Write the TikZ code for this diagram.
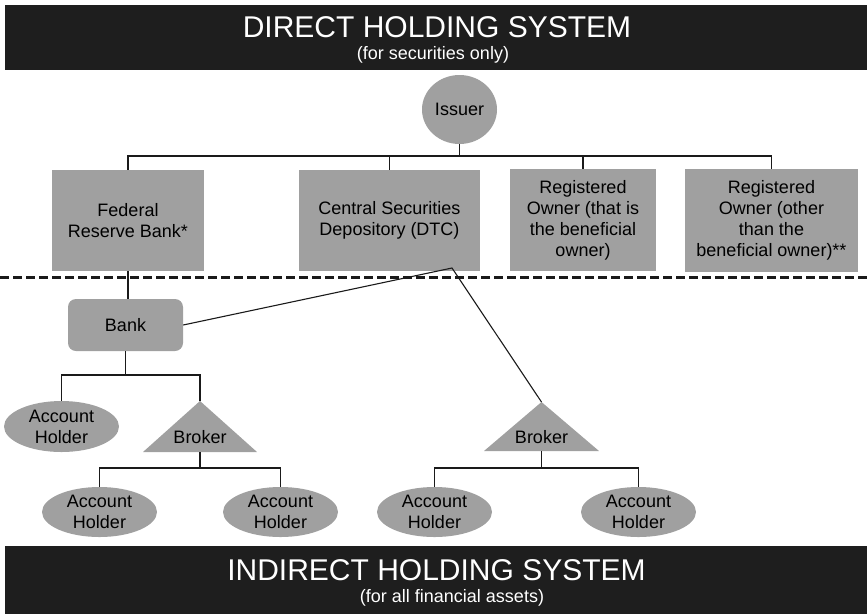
\documentclass[tikz,border=0pt]{standalone}
\usepackage{fontspec}
\setmainfont{Liberation Sans}
\usetikzlibrary{shapes.geometric}
\definecolor{bannerc}{HTML}{1E1E1E}
\definecolor{nodec}{HTML}{A0A0A0}
\definecolor{linec}{HTML}{1A1A1A}
\begin{document}
\begin{tikzpicture}[x=1pt,y=-1pt,
  nodefont/.style={font=\fontsize{18}{21}\selectfont, text=black},
  box/.style={rectangle, fill=nodec, draw=none, inner sep=0pt, align=center, nodefont},
  oval/.style={ellipse, fill=nodec, draw=none, inner sep=0pt, align=center, nodefont},
  conn/.style={draw=linec, line width=1.1pt},
  banner/.style={rectangle, fill=bannerc, draw=none, inner sep=0pt, minimum width=862pt},
  titlef/.style={text=white, font=\fontsize{30}{36}\selectfont, inner sep=0pt, anchor=base},
  subf/.style={text=white, font=\fontsize{18}{21}\selectfont, inner sep=0pt, anchor=base},
  divider/.style={draw=linec, line width=3pt, dash pattern=on 9pt off 4pt}]
\useasboundingbox (0,0) rectangle (867,614);

% banners
\node[banner, minimum height=65pt] (topbar) at (436,37.5) {};
\node[titlef] (toptitle) at (437,37) {DIRECT HOLDING SYSTEM};
\node[subf] (topsub) at (433,59) {(for securities only)};
\node[banner, minimum height=68pt] (botbar) at (436,580) {};
\node[titlef] (bottitle) at (436.5,580) {INDIRECT HOLDING SYSTEM};
\node[subf] (botsub) at (452,602) {(for all financial assets)};

% direct holding nodes
\node[oval, minimum width=75pt, minimum height=69pt] (iss) at (459.5,109.5) {Issuer};
\node[box, minimum width=152pt, minimum height=101pt] (frb) at (128,220.5) {Federal\\Reserve Bank*};
\node[box, minimum width=181pt, minimum height=101pt] (csd) at (389.5,220.5) {Central Securities\\Depository (DTC)};
\node[box, minimum width=146pt, minimum height=102pt] (ro1) at (583,220) {Registered\\Owner (that is\\the beneficial\\owner)};
\node[box, minimum width=173pt, minimum height=103pt] (ro2) at (771.5,220.5) {Registered\\Owner (other\\than the\\beneficial owner)**};

% divider
\coordinate (dl) at (0,277);
\coordinate (dr) at (867,277);
\draw[divider] (dl) -- (dr);

% indirect holding nodes
\node[box, rounded corners=8pt, minimum width=115pt, minimum height=52pt] (bank) at (125.5,325) {Bank};
\node[oval, minimum width=115pt, minimum height=51pt] (ah1) at (61.5,426.5) {Account\\Holder};

\coordinate (br1top) at (200,401);
\coordinate (br1bot) at (200,452);
\fill[nodec] (br1top) -- ++(57,51) -- ++(-114,0) -- cycle;
\node[nodefont, inner sep=0pt] (br1) at (200,437) {Broker};

\coordinate (br2top) at (541.5,402);
\coordinate (br2bot) at (541.5,451);
\fill[nodec] (br2top) -- ++(57.5,49) -- ++(-115,0) -- cycle;
\node[nodefont, inner sep=0pt] (br2) at (541.5,437) {Broker};

\node[oval, minimum width=115pt, minimum height=50pt] (ah2) at (99.5,512) {Account\\Holder};
\node[oval, minimum width=115pt, minimum height=50pt] (ah3) at (280.5,512) {Account\\Holder};
\node[oval, minimum width=115pt, minimum height=50pt] (ah4) at (434.5,512) {Account\\Holder};
\node[oval, minimum width=115pt, minimum height=50pt] (ah5) at (638.5,512) {Account\\Holder};

% connectors
\coordinate (bus1) at (0,156);
\draw[conn] (frb.north) |- (ro2.north |- bus1) -- (ro2.north);
\draw[conn] (iss.south) -- (iss.south |- bus1);
\draw[conn] (csd.north) -- (csd.north |- bus1);
\draw[conn] (ro1.north) -- (ro1.north |- bus1);

\draw[conn] (frb.south) -- (frb.south |- bank.north);
\coordinate (csdp) at (452,268);
\draw[conn] (bank.east) -- (csdp) -- (br2top);

\coordinate (bus2) at (0,375);
\draw[conn] (bank.south) -- (bank.south |- bus2);
\draw[conn] (ah1.north) |- (br1top |- bus2) -- (br1top);

\coordinate (bus3) at (0,468);
\draw[conn] (br1bot) -- (br1bot |- bus3);
\draw[conn] (ah2.north) |- (ah3.north |- bus3) -- (ah3.north);
\draw[conn] (br2bot) -- (br2bot |- bus3);
\draw[conn] (ah4.north) |- (ah5.north |- bus3) -- (ah5.north);
\end{tikzpicture}
\end{document}
